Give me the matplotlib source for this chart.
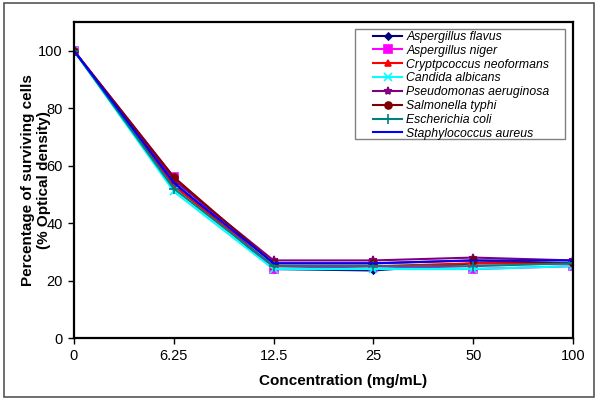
import matplotlib
matplotlib.use("Agg")
import matplotlib.pyplot as plt
from matplotlib.patches import Rectangle

plt.rcParams['font.family'] = ['Liberation Sans', 'DejaVu Sans']

concentrations = ["0", "6.25", "12.5", "25", "50", "100"]
series_names = ["Aspergillus flavus", "Aspergillus niger", "Cryptpcoccus neoformans",
                "Candida albicans", "Pseudomonas aeruginosa", "Salmonella typhi",
                "Escherichia coli", "Staphylococcus aureus"]
a_flavus = [100, 54, 24, 23.5, 26, 26]
a_niger = [100, 56, 24, 25, 24, 25]
c_neoformans = [100, 53, 25, 25, 26, 26]
c_albicans = [100, 51, 24, 24, 24, 25]
p_aeruginosa = [100, 55, 27, 27, 28, 27]
s_typhi = [100, 56, 26, 26, 27, 26]
e_coli = [100, 52, 25, 25, 25, 26]
s_aureus = [100, 54, 26, 26, 27, 27]
values = [a_flavus, a_niger, c_neoformans, c_albicans, p_aeruginosa, s_typhi, e_coli, s_aureus]

colors = ["#000080", "#FF00FF", "#FF0000", "#00FFFF", "#800080", "#800000", "#008080", "#0000FF"]
markers = ["D", "s", "^", "x", "*", "o", "+", None]
msizes = [3.5, 5.5, 5, 6, 6, 5, 7, 0]

fig = plt.figure(figsize=(6.0, 4.01), dpi=100)
L, T, R, B = 74, 22, 573, 338
W, H = R - L, B - T
ax = fig.add_axes([L/600, 1-B/401, W/600, H/401])

x = list(range(len(concentrations)))
for name, vals, c, m, ms in zip(series_names, values, colors, markers, msizes):
    ax.plot(x, vals, color=c, marker=m, markersize=ms, linewidth=1.5,
            markeredgewidth=1.2, label=name)

ax.set_xlim(0, 5)
ax.set_ylim(0, 110)
ax.set_xticks(x)
ax.set_xticklabels(concentrations)
ax.set_yticks([0, 20, 40, 60, 80, 100])
ax.tick_params(axis='both', labelsize=10.5, direction='out', length=4, width=1, pad=4)
for s in ax.spines.values():
    s.set_linewidth(1.6)
    s.set_color('black')

ax.set_xlabel("Concentration (mg/mL)", fontsize=11, fontweight='bold')
ax.xaxis.set_label_coords((343-L)/W, -(381-B)/H, transform=ax.transAxes)
ax.xaxis.label.set_va('center')
ax.set_ylabel("Percentage of surviving cells\n(% Optical density)", fontsize=11,
              fontweight='bold', linespacing=1.15)
ax.yaxis.set_label_coords((51-L)/W, 0.5)

leg = ax.legend(loc='upper left', bbox_to_anchor=((371-L)/W, 1-(29-T)/H),
                prop={'style': 'italic', 'size': 8.8}, frameon=False,
                borderpad=0.15, labelspacing=0.15, handlelength=2.4, handletextpad=0.35,
                borderaxespad=0)
ax.add_patch(Rectangle(((355-L)/W, 1-(139-T)/H), (565-355)/W, (139-29)/H,
                       transform=ax.transAxes, fill=False, edgecolor='#808080',
                       linewidth=1.0, zorder=5, clip_on=False))

fig.patches.append(Rectangle((4/600, 1-397/401), 590/600, 394/401, transform=fig.transFigure,
                             fill=False, edgecolor='#555555', linewidth=1.2))

fig.savefig("out.png", dpi=100)
